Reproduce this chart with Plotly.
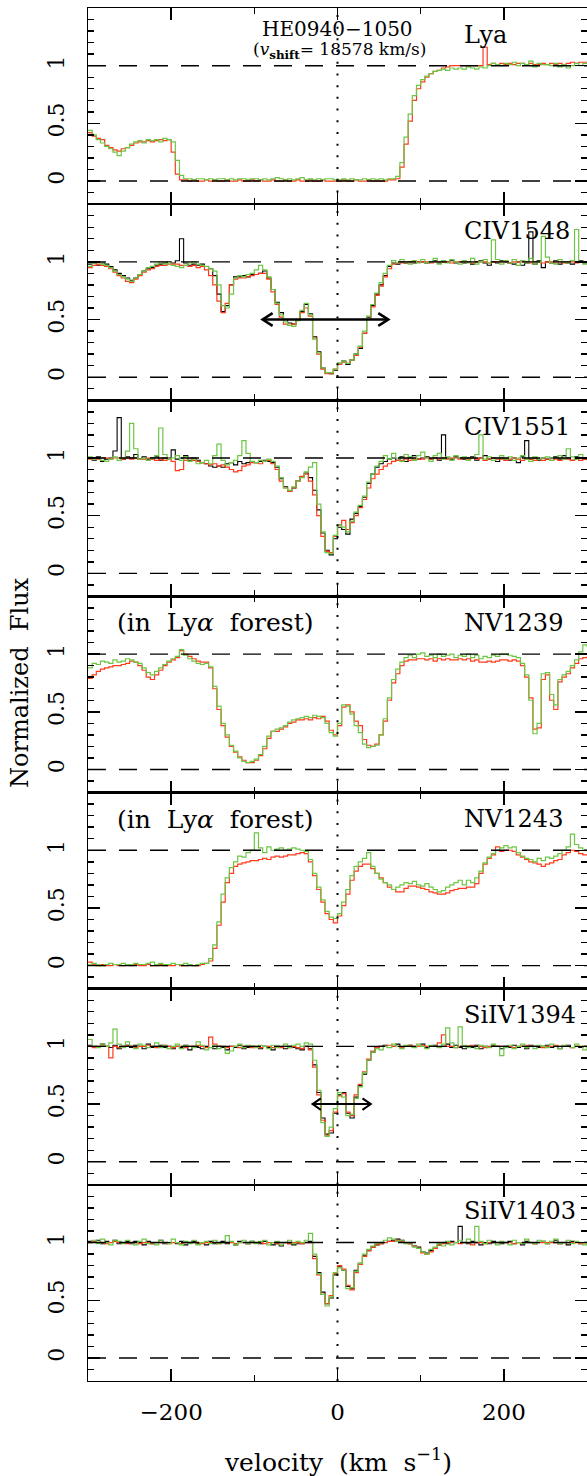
import plotly.graph_objects as go
from plotly.subplots import make_subplots

# velocity grid (km/s) shared by every spectrum
VELOCITY = list(range(-300, 301, 5))

PANELS = ["Lya", "CIV1548", "CIV1551", "NV1239", "NV1243", "SiIV1394", "SiIV1403"]

# ---------------- Lya ----------------
LYA_RED = [
    0.42, 0.39, 0.37, 0.36, 0.31, 0.29, 0.27, 0.26, 0.28, 0.29,
    0.31, 0.33, 0.34, 0.34, 0.35, 0.34, 0.35, 0.36, 0.35, 0.36,
    0.25, 0.06, 0.01, 0.01, 0.00, 0.01, 0.00, 0.00, 0.01, 0.00,
    0.01, 0.00, 0.00, 0.01, 0.00, 0.00, 0.01, 0.00, 0.00, 0.01,
    0.00, 0.01, 0.00, 0.00, 0.01, 0.00, 0.00, 0.01, 0.00, 0.00,
    0.01, 0.00, 0.00, 0.01, 0.00, 0.00, 0.01, 0.00, 0.00, 0.00,
    0.00, 0.01, 0.00, 0.00, 0.01, 0.00, 0.00, 0.01, 0.00, 0.00,
    0.00, 0.00, 0.01, 0.01, 0.02, 0.12, 0.32, 0.52, 0.70, 0.80,
    0.86, 0.90, 0.93, 0.95, 0.96, 0.98, 0.99, 1.00, 1.00, 1.00,
    1.00, 1.00, 1.00, 1.00, 1.00, 1.16, 1.01, 1.02, 1.01, 1.02,
    1.01, 1.02, 1.01, 1.02, 1.02, 1.01, 1.02, 1.01, 1.01, 1.02,
    1.01, 1.02, 1.01, 1.02, 1.01, 1.02, 1.03, 1.02, 1.03, 1.03,
    1.03,
]
LYA_GREEN = [
    0.44, 0.40, 0.36, 0.33, 0.30, 0.28, 0.25, 0.22, 0.26, 0.29,
    0.32, 0.34, 0.35, 0.33, 0.36, 0.35, 0.36, 0.34, 0.37, 0.36,
    0.34, 0.18, 0.05, 0.02, 0.02, 0.01, 0.02, 0.02, 0.01, 0.02,
    0.01, 0.02, 0.02, 0.01, 0.02, 0.01, 0.02, 0.02, 0.01, 0.02,
    0.02, 0.01, 0.02, 0.01, 0.02, 0.03, 0.02, 0.01, 0.02, 0.01,
    0.02, 0.03, 0.01, 0.02, 0.01, 0.02, 0.01, 0.02, 0.02, 0.01,
    0.01, 0.02, 0.01, 0.02, 0.01, 0.01, 0.02, 0.01, 0.02, 0.01,
    0.02, 0.01, 0.02, 0.02, 0.04, 0.16, 0.38, 0.58, 0.74, 0.83,
    0.88, 0.91, 0.93, 0.95, 0.96, 0.97, 0.96, 0.98, 0.97, 0.98,
    0.97, 0.99, 0.98, 0.97, 0.99, 0.98, 1.00, 1.02, 1.01, 1.00,
    1.02, 1.01, 1.03, 1.00, 1.02, 1.01, 1.04, 0.99, 1.02, 1.01,
    1.01, 1.00, 1.02, 0.99, 1.01, 0.98, 1.00, 1.02, 1.00, 1.02,
    1.02,
]

# ---------------- CIV1548 ----------------
CIV1548_BLACK = [
    0.98, 0.99, 0.97, 0.99, 0.98, 0.96, 0.93, 0.90, 0.88, 0.86,
    0.84, 0.86, 0.89, 0.92, 0.94, 0.95, 0.97, 0.98, 0.99, 1.00,
    0.99, 1.01, 1.20, 0.99, 0.97, 0.98, 0.97, 0.98, 0.96, 0.94,
    0.88, 0.72, 0.57, 0.62, 0.80, 0.87, 0.87, 0.88, 0.87, 0.89,
    0.89, 0.90, 0.92, 0.86, 0.76, 0.65, 0.56, 0.50, 0.47, 0.46,
    0.50, 0.57, 0.63, 0.55, 0.35, 0.22, 0.08, 0.04, 0.03, 0.06,
    0.12, 0.14, 0.11, 0.15, 0.20, 0.25, 0.38, 0.52, 0.62, 0.72,
    0.80, 0.88, 0.96, 0.99, 0.98, 1.00, 0.99, 1.00, 0.99, 1.00,
    1.00, 0.99, 1.00, 1.01, 0.99, 1.00, 1.00, 1.01, 0.99, 1.00,
    0.99, 1.00, 0.98, 1.00, 1.01, 0.99, 0.97, 1.00, 0.99, 1.01,
    1.00, 0.99, 0.98, 1.00, 0.97, 0.99, 1.26, 0.98, 1.01, 0.95,
    1.00, 0.99, 1.01, 0.98, 1.00, 0.99, 0.98, 1.00, 1.01, 0.99,
    1.00,
]
CIV1548_RED = [
    0.95, 0.97, 0.98, 0.97, 0.96, 0.94, 0.91, 0.88, 0.86, 0.83,
    0.82, 0.85, 0.88, 0.91, 0.93, 0.94, 0.96, 0.97, 0.97, 0.98,
    0.98, 0.98, 0.97, 0.97, 0.96, 0.97, 0.95, 0.96, 0.93, 0.88,
    0.80, 0.66, 0.56, 0.64, 0.80, 0.85, 0.86, 0.86, 0.87, 0.88,
    0.89, 0.90, 0.90, 0.85, 0.74, 0.63, 0.52, 0.46, 0.45, 0.46,
    0.50, 0.56, 0.60, 0.53, 0.34, 0.20, 0.07, 0.03, 0.03, 0.07,
    0.11, 0.13, 0.12, 0.15, 0.19, 0.26, 0.38, 0.50, 0.61, 0.71,
    0.79, 0.87, 0.94, 0.98, 0.99, 0.99, 1.00, 0.99, 1.00, 1.00,
    1.00, 1.00, 0.99, 1.00, 1.00, 1.00, 1.00, 0.99, 1.00, 1.00,
    1.00, 1.00, 0.99, 1.00, 1.00, 1.00, 0.99, 1.00, 1.00, 1.00,
    1.00, 0.99, 1.00, 1.00, 1.00, 1.00, 0.99, 1.00, 1.00, 0.99,
    1.00, 1.00, 0.99, 1.00, 0.99, 1.00, 1.00, 0.99, 1.00, 1.00,
    1.00,
]
CIV1548_GREEN = [
    0.96, 0.99, 1.00, 0.98, 0.97, 0.95, 0.92, 0.89, 0.87, 0.85,
    0.83, 0.86, 0.89, 0.92, 0.95, 0.96, 0.98, 1.00, 0.98, 0.99,
    0.97, 0.96, 0.95, 0.97, 0.99, 1.00, 0.98, 0.97, 0.96, 0.94,
    0.92, 0.80, 0.62, 0.60, 0.72, 0.86, 0.88, 0.87, 0.89, 0.90,
    0.93, 0.97, 0.93, 0.87, 0.76, 0.64, 0.54, 0.48, 0.45, 0.44,
    0.49, 0.58, 0.64, 0.54, 0.33, 0.21, 0.08, 0.04, 0.04, 0.07,
    0.12, 0.14, 0.12, 0.15, 0.20, 0.27, 0.40, 0.53, 0.63, 0.73,
    0.82, 0.90, 0.97, 1.01, 0.99, 1.02, 1.00, 0.98, 1.01, 0.99,
    1.02, 0.99, 1.00, 1.03, 0.98, 1.01, 0.99, 1.02, 1.00, 0.98,
    1.01, 0.99, 1.03, 0.98, 1.00, 1.02, 0.99, 1.19, 1.02, 0.98,
    1.01, 0.99, 1.02, 0.97, 1.01, 0.99, 1.03, 0.98, 1.00, 1.22,
    1.04, 0.99, 0.98, 1.02, 1.00, 0.99, 1.01, 1.28, 1.00, 0.98,
    0.99,
]

# ---------------- CIV1551 ----------------
CIV1551_BLACK = [
    1.00, 0.98, 1.01, 0.97, 0.99, 1.00, 1.06, 1.35, 0.99, 1.01,
    1.00, 1.03, 0.99, 1.01, 0.99, 1.00, 1.01, 0.98, 1.00, 1.00,
    1.07, 0.99, 1.00, 1.02, 0.98, 1.00, 0.98, 0.96, 0.95, 0.93,
    0.92, 0.93, 0.92, 0.95, 0.96, 0.94, 0.97, 0.95, 0.96, 0.97,
    0.96, 0.97, 0.98, 0.97, 0.96, 0.92, 0.82, 0.75, 0.71, 0.74,
    0.80, 0.84, 0.87, 0.83, 0.72, 0.55, 0.35, 0.20, 0.16, 0.30,
    0.40, 0.38, 0.34, 0.47, 0.52, 0.58, 0.66, 0.78, 0.86, 0.92,
    0.95, 0.97, 0.99, 1.00, 0.98, 1.01, 0.97, 1.00, 1.02, 0.99,
    1.00, 1.01, 0.99, 1.00, 0.98, 1.20, 1.00, 0.99, 1.01, 1.00,
    0.99, 1.00, 1.01, 0.98, 1.00, 1.02, 0.99, 1.00, 0.97, 1.00,
    0.99, 0.98, 1.00, 0.96, 1.01, 1.15, 0.99, 1.00, 0.98, 1.00,
    0.99, 1.00, 1.01, 0.99, 1.02, 1.00, 0.98, 1.01, 1.00, 0.99,
    0.98,
]
CIV1551_RED = [
    0.99, 1.00, 0.99, 1.00, 1.00, 0.99, 1.00, 1.00, 0.99, 1.00,
    0.99, 1.00, 0.99, 0.99, 1.00, 0.99, 0.98, 0.99, 0.98, 0.99,
    0.97, 0.89, 0.90, 0.98, 1.00, 0.98, 0.97, 0.96, 0.95, 0.94,
    0.95, 0.93, 0.94, 0.92, 0.90, 0.88, 0.89, 0.93, 0.94, 0.96,
    0.96, 0.95, 0.97, 0.98, 0.95, 0.90, 0.80, 0.74, 0.71, 0.74,
    0.80, 0.84, 0.86, 0.80, 0.68, 0.50, 0.32, 0.19, 0.18, 0.32,
    0.42, 0.46, 0.38, 0.44, 0.50, 0.57, 0.64, 0.74, 0.82, 0.86,
    0.90, 0.93, 0.95, 0.97, 0.98, 0.98, 0.99, 0.98, 0.99, 0.99,
    0.99, 1.00, 0.99, 1.00, 0.99, 1.00, 0.99, 1.00, 1.00, 0.99,
    1.00, 0.99, 1.00, 0.99, 1.00, 0.98, 0.99, 1.00, 0.99, 0.99,
    0.98, 0.99, 1.00, 0.99, 0.98, 0.99, 0.99, 0.98, 0.99, 0.98,
    0.99, 0.98, 0.99, 0.98, 0.99, 0.99, 0.98, 0.99, 0.98, 0.99,
    0.99,
]
CIV1551_GREEN = [
    1.01, 0.99, 1.00, 0.98, 0.97, 0.99, 1.01, 0.98, 1.00, 1.06,
    1.30, 1.08, 0.99, 1.00, 0.98, 1.00, 1.02, 1.26, 1.03, 0.99,
    1.00, 1.02, 0.98, 1.01, 0.97, 0.99, 0.95, 0.96, 0.98, 0.95,
    1.02, 1.12, 0.98, 0.94, 0.96, 0.98, 1.02, 1.15, 1.04, 0.97,
    0.96, 0.98, 0.97, 0.99, 0.97, 0.93, 0.83, 0.74, 0.72, 0.75,
    0.80, 0.83, 0.88, 0.92, 0.96, 0.60, 0.36, 0.18, 0.17, 0.33,
    0.42, 0.40, 0.36, 0.45, 0.53, 0.59, 0.67, 0.79, 0.86, 0.93,
    0.97, 1.02, 0.99, 1.04, 1.00, 0.97, 1.03, 1.01, 0.98, 1.02,
    1.05, 1.00, 0.97, 1.02, 1.04, 0.99, 1.01, 0.98, 1.02, 1.00,
    1.01, 0.98, 1.00, 1.03, 1.20, 0.99, 1.01, 0.98, 1.00, 1.02,
    0.99, 1.01, 0.98, 1.00, 1.02, 0.99, 0.97, 1.01, 0.99, 1.00,
    1.01, 0.98, 1.00, 1.02, 0.99, 1.08, 1.01, 0.99, 1.03, 1.00,
    0.99,
]

# ---------------- NV1239 ----------------
NV1239_RED = [
    0.79, 0.82, 0.85, 0.87, 0.88, 0.89, 0.90, 0.90, 0.91, 0.92,
    0.94, 0.93, 0.90, 0.86, 0.80, 0.78, 0.82, 0.86, 0.90, 0.93,
    0.95, 0.97, 1.03, 1.00, 0.98, 0.96, 0.94, 0.93, 0.93, 0.88,
    0.70, 0.52, 0.38, 0.28, 0.20, 0.15, 0.11, 0.08, 0.06, 0.06,
    0.08, 0.12, 0.18, 0.27, 0.33, 0.33, 0.35, 0.37, 0.40, 0.41,
    0.43, 0.43, 0.44, 0.43, 0.45, 0.44, 0.46, 0.42, 0.34, 0.30,
    0.38, 0.54, 0.56, 0.50, 0.42, 0.38, 0.26, 0.21, 0.20, 0.22,
    0.30, 0.42, 0.60, 0.75, 0.83, 0.90, 0.94, 0.95, 0.95, 0.96,
    0.96, 0.95, 0.96, 0.94, 0.96, 0.95, 0.96, 0.95, 0.95, 0.96,
    0.95, 0.96, 0.94, 0.95, 0.93, 0.93, 0.94, 0.93, 0.94, 0.95,
    0.95, 0.94, 0.95, 0.94, 0.90, 0.80, 0.62, 0.35, 0.36, 0.78,
    0.82, 0.60, 0.52, 0.76, 0.80, 0.83, 0.88, 0.92, 0.96, 0.97,
    0.98,
]
NV1239_GREEN = [
    0.88, 0.92, 0.91, 0.94, 0.93, 0.92, 0.95, 0.93, 0.94, 0.96,
    0.95, 0.93, 0.92, 0.88, 0.84, 0.82, 0.85, 0.88, 0.91, 0.94,
    0.96, 0.98, 1.04, 0.99, 0.96, 0.94, 0.92, 0.91, 0.92, 0.89,
    0.72, 0.55, 0.40, 0.30, 0.21, 0.16, 0.10, 0.07, 0.06, 0.07,
    0.09, 0.13, 0.20, 0.29, 0.33, 0.35, 0.36, 0.38, 0.41, 0.43,
    0.44, 0.45, 0.46, 0.45, 0.47, 0.46, 0.45, 0.40, 0.32, 0.29,
    0.40, 0.56, 0.55, 0.48, 0.38, 0.32, 0.22, 0.19, 0.20, 0.21,
    0.30, 0.44, 0.62, 0.78, 0.87, 0.93, 0.97, 0.99, 0.97, 1.00,
    1.01, 0.98, 0.99, 0.97, 1.00, 0.98, 0.99, 1.00, 0.97, 0.99,
    0.98, 1.00, 0.97, 0.99, 0.96, 0.98, 0.97, 0.99, 0.98, 1.00,
    1.00, 0.99, 0.98, 0.97, 0.92, 0.82, 0.60, 0.31, 0.40, 0.83,
    0.84, 0.65, 0.56, 0.78, 0.82, 0.85, 0.90, 0.95, 1.02, 1.08,
    1.06,
]

# ---------------- NV1243 ----------------
NV1243_RED = [
    0.03, 0.01, 0.00, 0.01, 0.00, 0.00, 0.01, 0.00, 0.00, 0.01,
    0.00, 0.01, 0.00, 0.00, 0.01, 0.00, 0.00, 0.01, 0.00, 0.00,
    0.00, 0.01, 0.00, 0.00, 0.01, 0.00, 0.00, 0.01, 0.02, 0.04,
    0.15, 0.35, 0.55, 0.72, 0.80, 0.86, 0.88, 0.89, 0.90, 0.91,
    0.91, 0.92, 0.93, 0.92, 0.94, 0.95, 0.94, 0.95, 0.96, 0.96,
    0.97, 0.98, 0.97, 0.90, 0.78, 0.66, 0.55, 0.45, 0.40, 0.37,
    0.43, 0.52, 0.62, 0.74, 0.82, 0.86, 0.88, 0.88, 0.84, 0.80,
    0.76, 0.72, 0.68, 0.66, 0.64, 0.64, 0.67, 0.69, 0.69, 0.68,
    0.67, 0.66, 0.64, 0.63, 0.62, 0.62, 0.63, 0.65, 0.66, 0.67,
    0.67, 0.68, 0.68, 0.71, 0.80, 0.88, 0.93, 0.96, 1.03, 0.99,
    1.00, 1.00, 0.99, 0.96, 0.94, 0.92, 0.90, 0.89, 0.88, 0.86,
    0.88, 0.89, 0.91, 0.92, 0.96, 0.98, 1.00, 0.99, 0.97, 0.96,
    0.96,
]
NV1243_GREEN = [
    0.01, 0.02, 0.01, 0.00, 0.01, 0.02, 0.01, 0.01, 0.02, 0.01,
    0.01, 0.02, 0.01, 0.01, 0.02, 0.03, 0.01, 0.02, 0.01, 0.01,
    0.02, 0.01, 0.01, 0.02, 0.01, 0.00, 0.01, 0.02, 0.02, 0.06,
    0.18, 0.38, 0.62, 0.76, 0.85, 0.90, 0.95, 0.94, 0.98, 1.00,
    1.15, 1.02, 0.98, 1.03, 1.00, 1.01, 1.02, 1.00, 1.01, 1.02,
    1.01, 1.00, 0.99, 0.92, 0.80, 0.68, 0.57, 0.47, 0.42, 0.41,
    0.45, 0.55, 0.66, 0.78, 0.86, 0.90, 0.93, 0.98, 0.86, 0.80,
    0.75, 0.72, 0.70, 0.66, 0.68, 0.70, 0.72, 0.71, 0.73, 0.70,
    0.69, 0.71, 0.68, 0.66, 0.64, 0.65, 0.68, 0.70, 0.72, 0.74,
    0.70, 0.74, 0.72, 0.76, 0.82, 0.89, 0.94, 0.97, 1.00, 1.02,
    1.04, 1.02, 1.03, 0.98, 0.95, 0.93, 0.92, 0.90, 0.93, 0.91,
    0.94, 0.93, 0.95, 0.97, 1.00, 1.03, 1.14, 1.05, 1.02, 1.00,
    0.99,
]

# ---------------- SiIV1394 ----------------
SIIV1394_BLACK = [
    1.01, 1.00, 0.99, 1.02, 1.00, 0.99, 1.01, 0.98, 1.00, 1.01,
    0.99, 1.01, 1.00, 0.98, 1.02, 0.99, 1.00, 1.01, 0.99, 1.00,
    0.98, 1.00, 0.99, 1.01, 0.97, 1.00, 0.99, 0.98, 1.00, 0.99,
    0.98, 1.00, 0.99, 0.97, 1.00, 0.99, 1.01, 0.98, 0.99, 1.00,
    0.99, 0.98, 1.00, 0.99, 0.97, 1.00, 0.99, 0.98, 1.00, 0.99,
    0.98, 0.97, 1.00, 0.98, 0.84, 0.60, 0.38, 0.24, 0.25, 0.42,
    0.58, 0.60, 0.42, 0.38, 0.56, 0.66, 0.76, 0.88, 0.95, 0.99,
    1.00, 1.01, 0.99, 1.00, 1.02, 0.99, 1.00, 1.01, 0.99, 1.00,
    1.02, 0.99, 1.00, 1.01, 0.99, 1.00, 1.02, 0.99, 1.01, 0.99,
    0.98, 1.00, 0.99, 1.01, 0.98, 1.00, 0.99, 1.01, 1.00, 0.98,
    1.00, 0.99, 1.01, 0.99, 1.00, 0.98, 1.01, 1.00, 0.99, 1.00,
    1.01, 0.99, 1.00, 0.98, 1.00, 1.01, 0.99, 1.00, 0.99, 1.00,
    0.99,
]
SIIV1394_RED = [
    1.00, 0.99, 1.00, 1.01, 1.00, 0.90, 1.00, 0.99, 1.00, 1.01,
    1.00, 0.99, 1.00, 1.00, 1.01, 1.00, 0.99, 1.00, 1.01, 1.00,
    0.99, 1.00, 1.00, 0.99, 1.00, 1.00, 1.01, 1.00, 0.99, 1.08,
    1.02, 1.00, 1.00, 0.99, 1.00, 1.00, 0.99, 1.00, 1.00, 0.99,
    1.00, 0.99, 1.00, 1.00, 0.99, 1.00, 0.99, 1.00, 0.99, 1.00,
    0.99, 0.98, 1.00, 0.97, 0.82, 0.58, 0.36, 0.23, 0.27, 0.43,
    0.57, 0.59, 0.43, 0.40, 0.58, 0.67, 0.78, 0.89, 0.96, 0.99,
    1.00, 1.00, 1.01, 1.00, 1.00, 0.99, 1.00, 1.01, 1.00, 1.00,
    1.01, 1.00, 1.00, 1.00, 1.03, 1.10, 1.00, 1.00, 0.99, 1.00,
    1.00, 1.00, 1.01, 1.00, 1.00, 0.99, 1.00, 1.00, 1.00, 1.00,
    1.00, 1.00, 0.99, 1.00, 1.00, 1.01, 1.00, 1.00, 1.00, 0.99,
    1.00, 1.00, 1.01, 1.00, 1.00, 1.00, 0.99, 1.00, 1.00, 1.00,
    1.00,
]
SIIV1394_GREEN = [
    1.06, 1.00, 0.99, 1.02, 1.00, 1.03, 1.15, 1.02, 0.99, 1.04,
    1.00, 0.98, 1.02, 1.01, 0.99, 1.00, 1.03, 0.99, 1.01, 0.98,
    1.00, 1.02, 0.98, 1.01, 1.00, 0.99, 1.04, 1.01, 0.97, 0.99,
    1.01, 0.98, 1.00, 0.94, 0.96, 1.00, 1.02, 0.99, 1.01, 1.00,
    0.99, 1.01, 1.00, 0.98, 1.01, 0.99, 1.00, 1.02, 0.99, 1.01,
    1.02, 1.00, 1.03, 1.02, 0.88, 0.62, 0.34, 0.22, 0.30, 0.46,
    0.60, 0.56, 0.40, 0.41, 0.55, 0.65, 0.77, 0.88, 0.95, 0.98,
    0.97, 1.00, 0.99, 1.02, 1.00, 0.98, 1.01, 1.00, 0.99, 1.02,
    1.00, 0.98, 1.01, 1.00, 0.99, 1.02, 1.16, 1.03, 0.99, 1.17,
    1.01, 0.99, 1.00, 0.98, 1.01, 1.00, 0.99, 1.02, 1.00, 0.92,
    0.99, 1.01, 0.98, 1.00, 1.02, 0.99, 1.00, 0.98, 1.01, 1.00,
    0.99, 1.02, 1.00, 0.98, 1.01, 1.00, 0.99, 1.02, 1.00, 0.97,
    1.01,
]

# ---------------- SiIV1403 ----------------
SIIV1403_BLACK = [
    1.01, 1.00, 1.02, 0.99, 1.01, 1.00, 1.02, 0.99, 1.00, 1.01,
    0.99, 1.01, 1.00, 0.98, 1.01, 0.99, 1.00, 1.02, 0.99, 1.00,
    1.00, 0.99, 1.01, 0.98, 1.00, 1.01, 0.99, 1.00, 0.98, 1.01,
    0.99, 1.00, 1.01, 0.99, 1.00, 0.98, 1.01, 1.00, 0.99, 1.01,
    1.00, 0.99, 1.01, 1.00, 0.98, 0.99, 0.97, 1.00, 0.99, 0.98,
    0.99, 0.99, 1.00, 1.01, 0.88, 0.74, 0.57, 0.47, 0.52, 0.72,
    0.79, 0.76, 0.62, 0.60, 0.76, 0.82, 0.89, 0.93, 0.96, 0.98,
    0.99, 1.00, 1.01, 1.02, 1.03, 1.02, 1.00, 0.99, 0.97, 0.96,
    0.92, 0.91, 0.93, 0.95, 0.98, 1.00, 0.99, 1.01, 1.00, 1.14,
    1.00, 0.99, 1.01, 1.00, 0.98, 1.00, 0.99, 1.01, 1.00, 0.99,
    1.00, 1.01, 0.99, 1.00, 0.98, 1.01, 1.00, 0.99, 1.00, 1.01,
    0.99, 1.00, 1.02, 0.99, 1.00, 0.98, 1.01, 1.00, 0.99, 1.00,
    1.00,
]
SIIV1403_RED = [
    1.00, 1.01, 1.00, 1.00, 0.99, 1.00, 1.01, 1.00, 1.00, 0.99,
    1.00, 1.00, 0.99, 1.00, 1.00, 0.99, 1.00, 1.00, 1.00, 0.99,
    1.00, 1.00, 0.99, 1.00, 1.00, 1.00, 1.00, 0.99, 1.00, 1.00,
    1.00, 0.99, 1.00, 1.00, 1.00, 0.99, 1.00, 1.00, 0.99, 1.00,
    1.00, 1.00, 0.99, 1.00, 1.00, 0.99, 1.00, 1.00, 0.99, 1.00,
    1.00, 0.99, 1.00, 1.00, 0.86, 0.72, 0.55, 0.47, 0.54, 0.73,
    0.80, 0.77, 0.63, 0.59, 0.74, 0.81, 0.88, 0.93, 0.96, 0.98,
    0.99, 1.00, 1.01, 1.01, 1.02, 1.01, 1.00, 0.99, 0.97, 0.95,
    0.91, 0.90, 0.92, 0.95, 0.98, 0.99, 1.00, 1.00, 1.00, 0.99,
    1.00, 1.00, 0.98, 1.00, 1.00, 0.99, 1.00, 1.00, 1.00, 1.00,
    1.00, 1.00, 0.99, 1.00, 1.00, 1.00, 1.00, 0.99, 1.00, 1.00,
    1.00, 1.00, 1.00, 0.99, 1.00, 1.00, 1.00, 1.00, 0.99, 1.00,
    1.00,
]
SIIV1403_GREEN = [
    1.00, 1.02, 0.99, 1.03, 1.00, 0.98, 1.02, 1.01, 0.99, 1.02,
    1.00, 0.98, 1.01, 1.03, 0.99, 1.00, 0.98, 1.02, 1.00, 0.99,
    1.03, 1.00, 0.98, 1.01, 0.99, 1.02, 0.98, 1.00, 1.01, 0.99,
    1.02, 0.99, 1.00, 1.06, 1.01, 0.98, 1.00, 1.02, 0.99, 1.01,
    0.99, 1.01, 1.02, 0.98, 1.00, 1.01, 0.98, 1.00, 1.02, 0.99,
    1.01, 1.00, 1.02, 1.08, 0.90, 0.73, 0.55, 0.45, 0.53, 0.74,
    0.78, 0.76, 0.60, 0.61, 0.75, 0.82, 0.90, 0.94, 0.97, 0.99,
    1.00, 1.02, 1.04, 1.03, 1.01, 1.02, 0.99, 1.00, 0.96, 0.95,
    0.92, 0.90, 0.94, 0.96, 0.99, 0.97, 1.01, 0.98, 1.00, 1.02,
    1.00, 1.03, 1.00, 1.14, 1.01, 0.99, 1.02, 1.00, 0.98, 1.01,
    1.00, 0.98, 1.02, 1.00, 0.99, 1.03, 1.00, 0.99, 1.02, 1.01,
    0.99, 1.01, 1.03, 0.99, 1.00, 1.02, 0.99, 1.01, 1.00, 0.98,
    1.01,
]

SERIES = {
    "Lya": (None, LYA_RED, LYA_GREEN),
    "CIV1548": (CIV1548_BLACK, CIV1548_RED, CIV1548_GREEN),
    "CIV1551": (CIV1551_BLACK, CIV1551_RED, CIV1551_GREEN),
    "NV1239": (None, NV1239_RED, NV1239_GREEN),
    "NV1243": (None, NV1243_RED, NV1243_GREEN),
    "SiIV1394": (SIIV1394_BLACK, SIIV1394_RED, SIIV1394_GREEN),
    "SiIV1403": (SIIV1403_BLACK, SIIV1403_RED, SIIV1403_GREEN),
}

FOREST_NOTE = {"NV1239", "NV1243"}
# velocity intervals marked with double arrows (panel: (v_start, v_end, flux))
ARROWS = {"CIV1548": (-90, 61, 0.5), "SiIV1394": (-30, 40, 0.5)}

# styling
ARROW_STYLE = {"CIV1548": dict(width=2.6, head_len=12, head_half=0.055),
               "SiIV1394": dict(width=2.0, head_len=10, head_half=0.05)}
FONT = "DejaVu Serif"
BLACK_C = "#000000"
RED_C = "#ff3a1a"
GREEN_C = "#6cc644"
NB = "\u00a0"

fig = make_subplots(rows=7, cols=1, shared_xaxes=True, vertical_spacing=0)

for i, name in enumerate(PANELS):
    row = i + 1
    sfx = "" if row == 1 else str(row)
    xr, yr = "x" + sfx, "y" + sfx
    blk, red, grn = SERIES[name]
    if blk is not None:
        fig.add_trace(go.Scatter(x=VELOCITY, y=blk, mode="lines",
                                 line=dict(color=BLACK_C, width=1.1, shape="hv")),
                      row=row, col=1)
    fig.add_trace(go.Scatter(x=VELOCITY, y=red, mode="lines",
                             line=dict(color=RED_C, width=1.2, shape="hv")),
                  row=row, col=1)
    fig.add_trace(go.Scatter(x=VELOCITY, y=grn, mode="lines",
                             line=dict(color=GREEN_C, width=1.2, shape="hv")),
                  row=row, col=1)
    for yl in (0, 1):
        fig.add_hline(y=yl, line=dict(color="black", width=1.4, dash="18px,13px"),
                      row=row, col=1)
    fig.add_vline(x=0, line=dict(color="black", width=2, dash="2px,9.7px"),
                  row=row, col=1)

    fig.add_annotation(x=150, y=1.27, xref=xr, yref=yr,
                       text=name, showarrow=False, xanchor="left", yanchor="middle",
                       font=dict(family=FONT, size=24, color="black"))
    if name in FOREST_NOTE:
        fig.add_annotation(x=-268, y=1.27, xref=xr, yref=yr,
                           text="(in" + NB + " Ly<i>α</i>" + NB + " forest)",
                           showarrow=False, xanchor="left", yanchor="middle",
                           font=dict(family=FONT, size=25, color="black"))
    if name in ARROWS:
        a0, a1, ay = ARROWS[name]
        st = ARROW_STYLE[name]
        hl, hh = st["head_len"], st["head_half"]
        ln = dict(color="black", width=st["width"])
        fig.add_shape(type="line", x0=a0, x1=a1, y0=ay, y1=ay, xref=xr, yref=yr,
                      line=ln)
        fig.add_shape(type="path", xref=xr, yref=yr, line=ln,
                      path=f"M {a0 + hl},{ay + hh} L {a0},{ay} L {a0 + hl},{ay - hh}")
        fig.add_shape(type="path", xref=xr, yref=yr, line=ln,
                      path=f"M {a1 - hl},{ay + hh} L {a1},{ay} L {a1 - hl},{ay - hh}")

fig.add_annotation(x=0, y=1.32, xref="x", yref="y", text="HE0940−1050",
                   showarrow=False, xanchor="center", yanchor="middle",
                   font=dict(family=FONT, size=20, color="black"))
fig.add_annotation(x=2, y=1.13, xref="x", yref="y",
                   text="(<i>v</i><sub><b>shift</b></sub>= 18578 km/s)",
                   showarrow=False, xanchor="center", yanchor="middle",
                   font=dict(family=FONT, size=17, color="black"))

fig.update_xaxes(range=[-300, 300], showline=True, linewidth=1.3, linecolor="black",
                 mirror="ticks", ticks="inside", ticklen=12, tickwidth=1.4,
                 tickcolor="black", tick0=0, dtick=200,
                 minor=dict(ticks="inside", ticklen=6, tickwidth=1.4,
                            tickcolor="black", tick0=0, dtick=100, showgrid=False),
                 showgrid=False, zeroline=False, automargin=False,
                 tickfont=dict(family=FONT, size=23, color="black"),
                 ticklabelstandoff=10)
fig.update_yaxes(range=[-0.2, 1.5], showline=True, linewidth=1.3, linecolor="black",
                 mirror="ticks", ticks="inside", ticklen=12, tickwidth=1.4,
                 tickcolor="black", tickmode="array", tickvals=[0, 0.5, 1],
                 ticktext=["0", "0.5", "1"], tickangle=-90,
                 minor=dict(ticks="inside", ticklen=6, tickwidth=1.4, tickcolor="black",
                            tickmode="array",
                            tickvals=[-0.1, 0.1, 0.2, 0.3, 0.4, 0.6, 0.7, 0.8, 0.9,
                                      1.1, 1.2, 1.3, 1.4], showgrid=False),
                 showgrid=False, zeroline=False, automargin=False,
                 tickfont=dict(family=FONT, size=22, color="black"),
                 ticklabelstandoff=14)

L, R, T, B = 88, 0, 8, 95
W, H = 587, 1476
pw, ph = W - L - R, H - T - B

fig.add_annotation(x=(20 - L) / pw, y=(H - B - 683) / ph, xref="paper", yref="paper",
                   text="Normalized" + NB + " Flux", showarrow=False, textangle=-90,
                   xanchor="center", yanchor="middle",
                   font=dict(family=FONT, size=24, color="black"))
fig.add_annotation(x=(338 - L) / pw, y=(H - B - 1460) / ph, xref="paper", yref="paper",
                   text="velocity" + NB + " (km" + NB + " s<sup>−1</sup>)",
                   showarrow=False, xanchor="center", yanchor="middle",
                   font=dict(family=FONT, size=25, color="black"))

fig.update_layout(width=W, height=H, margin=dict(l=L, r=R, t=T, b=B),
                  paper_bgcolor="white", plot_bgcolor="white", showlegend=False)

fig.write_html("out.html", config={"displayModeBar": False, "staticPlot": True},
               post_script="document.body.style.margin='0px';"
                           "document.body.style.overflow='hidden';")
